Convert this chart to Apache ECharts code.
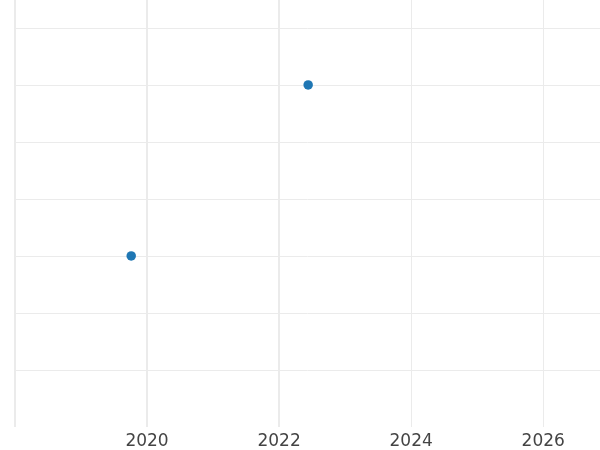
<!DOCTYPE html>
<html><head><meta charset="utf-8">
<script src="https://cdn.jsdelivr.net/npm/echarts@6/dist/echarts.min.js"></script>
<style>html,body{margin:0;padding:0;background:#fff}#c{width:600px;height:450px}</style>
</head><body><div id="c"></div>
<script>
const xValues = [2019.76, 2022.44];
const yValues = [3, 6];
const xTicks = [2020, 2022, 2024, 2026];
const strongGridX = [2018, 2020, 2022];

const chart = echarts.init(document.getElementById('c'), null, {renderer: 'canvas'});
chart.setOption({
  animation: false,
  grid: {left: 15, right: 0, top: 0, bottom: 23, containLabel: false, outerBoundsMode: 'none'},
  xAxis: {
    type: 'value', min: 2018, max: 2026.86, interval: 2,
    axisLine: {show: false}, axisTick: {show: false},
    splitLine: {show: true, showMinLine: true, showMaxLine: false, lineStyle: {color: '#ebebeb', width: 1}},
    axisLabel: {
      show: true, color: '#444', fontSize: 17, fontFamily: 'DejaVu Sans', margin: 6,
      showMinLabel: false, showMaxLabel: false,
      formatter: v => xTicks.includes(Math.round(v)) ? String(Math.round(v)) : ''
    }
  },
  yAxis: {
    type: 'value', min: 0, max: 7.49, interval: 1,
    axisLine: {show: false}, axisTick: {show: false}, axisLabel: {show: false},
    splitLine: {show: true, showMinLine: false, showMaxLine: false, lineStyle: {color: '#ebebeb', width: 1}}
  },
  series: [{
    type: 'scatter',
    data: xValues.map((x, i) => [x, yValues[i]]),
    symbolSize: 9.5,
    itemStyle: {color: '#1f77b4', opacity: 1},
    z: 5,
    markLine: {
      silent: true, symbol: ['none', 'none'], label: {show: false},
      lineStyle: {color: '#ebebeb', width: 2, type: 'solid'},
      data: strongGridX.map(v => ({xAxis: v})),
      z: 1
    }
  }]
});
</script></body></html>
